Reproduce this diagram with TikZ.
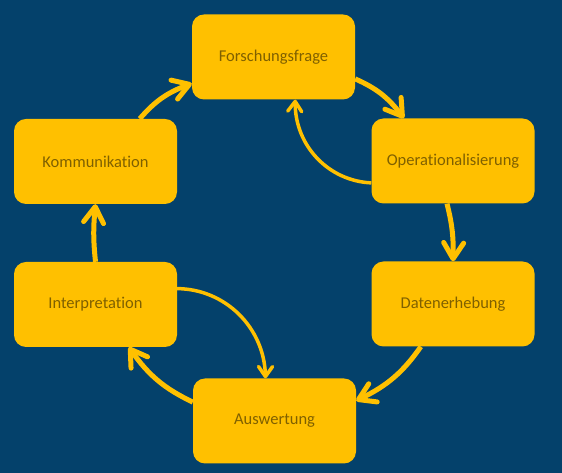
\documentclass[tikz,border=0pt]{standalone}
\usepackage{fontspec}
\setmainfont{Carlito}[Ligatures=NoCommon]
\usetikzlibrary{arrows.meta,bending}

\definecolor{bgblue}{HTML}{04416B}
\definecolor{boxgold}{HTML}{FFC000}
\definecolor{txtbrown}{HTML}{7F6000}

\begin{document}
\begin{tikzpicture}[x=1pt,y=1pt,
    stepbox/.style={fill=boxgold,rounded corners=12pt,minimum width=163pt,minimum height=85pt,text=txtbrown,font=\fontsize{16.5}{19}\selectfont},
    flow/.style={draw=boxgold,line width=5pt,-{Straight Barb[length=16pt,width=20pt,round]}},
    backflow/.style={draw=boxgold,line width=3.5pt,-{Straight Barb[length=10pt,width=14pt,round]}}]
            \fill[bgblue] (0,0) rectangle (562,473);
            \useasboundingbox (0,0) rectangle (562,473);
            \node[stepbox] (frage) at (273.5,416) {Forschungsfrage};
            \node[stepbox] (oper) at (453,312) {Operationalisierung};
            \node[stepbox] (daten) at (453,169) {Datenerhebung};
            \node[stepbox] (ausw) at (274.5,52) {Auswertung};
            \node[stepbox] (interp) at (95.5,168.5) {Interpretation};
            \node[stepbox] (komm) at (95.5,311.5) {Kommunikation};
            \draw[flow] (frage.-15) to[bend left=15] (oper.139);
            \draw[flow] (oper.-98) to[bend left=8] (daten.north);
            \draw[flow] (daten.-127) to[bend left=15] (ausw.14);
            \draw[flow] (ausw.167) to[bend left=15] (interp.-52);
            \draw[flow] (interp.north) to[bend left=6] (komm.south);
            \draw[flow] (komm.44) to[bend left=15] (frage.-162);
            \draw[backflow] (interp.11) to[bend left=45] (ausw.102);
            \draw[backflow] (oper.-165) to[bend left=45] (frage.-63);
        \end{tikzpicture}
\end{document}
